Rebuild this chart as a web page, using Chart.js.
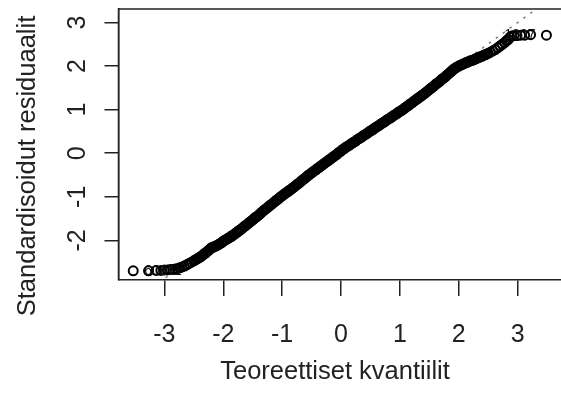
<!DOCTYPE html>
<html>
<head>
<meta charset="utf-8">
<script src="https://cdn.jsdelivr.net/npm/chart.js@4"></script>
<style>
  html, body { margin: 0; padding: 0; background: #ffffff; overflow: hidden; }
  #wrap { width: 570px; height: 393px; }
</style>
</head>
<body>
<div id="wrap"><canvas id="qq" width="570" height="393"></canvas></div>
<script>
// Normal Q-Q plot of the standardised residuals
const teoreettiset = [
  -3.53, -3.27, -3.14, -3.06, -3.00, -2.95, -2.90, -2.86, -2.82, -2.78,
  -2.74, -2.70, -2.66, -2.62, -2.58, -2.54,
  -2.500, -2.475, -2.450, -2.425, -2.400, -2.375, -2.350, -2.325, -2.300, -2.275,
  -2.250, -2.225, -2.200, -2.175, -2.150, -2.125, -2.100, -2.075, -2.050, -2.025,
  -2.000, -1.975, -1.950, -1.925, -1.900, -1.875, -1.850, -1.825, -1.800, -1.775,
  -1.750, -1.725, -1.700, -1.675, -1.650, -1.625, -1.600, -1.575, -1.550, -1.525,
  -1.500, -1.475, -1.450, -1.425, -1.400, -1.375, -1.350, -1.325, -1.300, -1.275,
  -1.250, -1.225, -1.200, -1.175, -1.150, -1.125, -1.100, -1.075, -1.050, -1.025,
  -1.000, -0.975, -0.950, -0.925, -0.900, -0.875, -0.850, -0.825, -0.800, -0.775,
  -0.750, -0.725, -0.700, -0.675, -0.650, -0.625, -0.600, -0.575, -0.550, -0.525,
  -0.500, -0.475, -0.450, -0.425, -0.400, -0.375, -0.350, -0.325, -0.300, -0.275,
  -0.250, -0.225, -0.200, -0.175, -0.150, -0.125, -0.100, -0.075, -0.050, -0.025,
  0.000, 0.025, 0.050, 0.075, 0.100, 0.125, 0.150, 0.175, 0.200, 0.225,
  0.250, 0.275, 0.300, 0.325, 0.350, 0.375, 0.400, 0.425, 0.450, 0.475,
  0.500, 0.525, 0.550, 0.575, 0.600, 0.625, 0.650, 0.675, 0.700, 0.725,
  0.750, 0.775, 0.800, 0.825, 0.850, 0.875, 0.900, 0.925, 0.950, 0.975,
  1.000, 1.025, 1.050, 1.075, 1.100, 1.125, 1.150, 1.175, 1.200, 1.225,
  1.250, 1.275, 1.300, 1.325, 1.350, 1.375, 1.400, 1.425, 1.450, 1.475,
  1.500, 1.525, 1.550, 1.575, 1.600, 1.625, 1.650, 1.675, 1.700, 1.725,
  1.750, 1.775, 1.800, 1.825, 1.850, 1.875, 1.900, 1.925, 1.950, 1.975,
  2.000, 2.025, 2.050, 2.075, 2.100, 2.125, 2.150, 2.175, 2.200, 2.225,
  2.250, 2.275, 2.300, 2.325, 2.350, 2.375, 2.400, 2.425, 2.450, 2.475,
  2.50, 2.54, 2.58, 2.62, 2.66, 2.70, 2.74, 2.78, 2.81, 2.84,
  2.87, 2.90, 2.94, 2.99, 3.05, 3.12, 3.22, 3.49
];
const residuaalit = [
  -2.70, -2.70, -2.69, -2.69, -2.68, -2.68, -2.67, -2.67, -2.66, -2.65,
  -2.63, -2.61, -2.59, -2.56, -2.53, -2.50,
  -2.47, -2.45, -2.43, -2.41, -2.39, -2.37, -2.34, -2.31, -2.29, -2.26,
  -2.23, -2.20, -2.17, -2.16, -2.14, -2.13, -2.11, -2.09, -2.07, -2.05,
  -2.02, -2.00, -1.98, -1.96, -1.94, -1.92, -1.90, -1.87, -1.85, -1.82,
  -1.80, -1.77, -1.75, -1.72, -1.69, -1.67, -1.64, -1.61, -1.58, -1.56,
  -1.53, -1.50, -1.47, -1.45, -1.42, -1.39, -1.36, -1.33, -1.30, -1.28,
  -1.25, -1.22, -1.19, -1.17, -1.14, -1.11, -1.08, -1.06, -1.03, -1.00,
  -0.98, -0.95, -0.93, -0.90, -0.88, -0.85, -0.83, -0.80, -0.78, -0.75,
  -0.72, -0.70, -0.67, -0.64, -0.61, -0.59, -0.56, -0.53, -0.50, -0.48,
  -0.45, -0.43, -0.40, -0.38, -0.35, -0.33, -0.30, -0.28, -0.25, -0.23,
  -0.20, -0.18, -0.15, -0.13, -0.10, -0.08, -0.05, -0.03, 0.00, 0.03,
  0.05, 0.08, 0.10, 0.13, 0.15, 0.17, 0.19, 0.22, 0.24, 0.26,
  0.28, 0.31, 0.33, 0.35, 0.37, 0.40, 0.42, 0.44, 0.46, 0.49,
  0.51, 0.53, 0.55, 0.58, 0.60, 0.62, 0.64, 0.67, 0.69, 0.71,
  0.73, 0.76, 0.78, 0.80, 0.82, 0.85, 0.87, 0.89, 0.91, 0.94,
  0.96, 0.98, 1.00, 1.03, 1.05, 1.08, 1.10, 1.13, 1.15, 1.18,
  1.20, 1.23, 1.25, 1.28, 1.30, 1.33, 1.35, 1.38, 1.40, 1.43,
  1.46, 1.49, 1.51, 1.54, 1.57, 1.60, 1.62, 1.65, 1.68, 1.71,
  1.73, 1.76, 1.79, 1.82, 1.85, 1.88, 1.91, 1.94, 1.96, 1.98,
  2.00, 2.02, 2.03, 2.05, 2.06, 2.08, 2.09, 2.11, 2.12, 2.13,
  2.14, 2.16, 2.17, 2.19, 2.20, 2.22, 2.23, 2.25, 2.26, 2.28,
  2.29, 2.32, 2.35, 2.38, 2.42, 2.46, 2.50, 2.54, 2.58, 2.61,
  2.66, 2.69, 2.70, 2.70, 2.71, 2.71, 2.72, 2.71
];

// Reference line through the quartiles (qqline), given by its two end points
const viivaX = [-3.80, 3.80];
const viivaY = [-3.66, 3.78];

// Identified extreme observations: point index and its label
const tunnusIndeksit = [0, 1, teoreettiset.length - 1];
const tunnukset = ['606', '211', '1207'];

const xTicks = [-3, -2, -1, 0, 1, 2, 3];
const xTickLabels = ['-3', '-2', '-1', '0', '1', '2', '3'];
const yTicks = [-2, -1, 0, 1, 2, 3];
const yTickLabels = ['-2', '-1', '0', '1', '2', '3'];

const xOtsikko = 'Teoreettiset kvantiilit';
const yOtsikko = 'Standardisoidut residuaalit';

const FONT = '"Liberation Sans", Arial, sans-serif';
const INK = '#222222';

const pisteet = teoreettiset.map((x, i) => ({ x: x, y: residuaalit[i] }));
const viiva = viivaX.map((x, i) => ({ x: x, y: viivaY[i] }));

const boxPlugin = {
  id: 'boxAndLabels',
  afterDraw(chart) {
    const { ctx, chartArea: a, scales } = chart;
    ctx.save();
    // frame around the plotting region
    ctx.strokeStyle = INK;
    ctx.lineWidth = 1.5;
    ctx.beginPath();
    ctx.moveTo(a.left, a.bottom);
    ctx.lineTo(a.left, a.top);
    ctx.lineTo(a.right, a.top);
    ctx.lineTo(a.right, a.bottom);
    ctx.stroke();

    // rotated y tick labels
    ctx.fillStyle = INK;
    ctx.font = '25px ' + FONT;
    ctx.textAlign = 'center';
    ctx.textBaseline = 'middle';
    yTicks.forEach((v, i) => {
      const py = scales.y.getPixelForValue(v);
      ctx.save();
      ctx.translate(78, py);
      ctx.rotate(-Math.PI / 2);
      ctx.fillText(yTickLabels[i], 0, 0);
      ctx.restore();
    });

    // axis titles
    ctx.font = '25.5px ' + FONT;
    ctx.fillText(xOtsikko, 335, 372);
    ctx.save();
    ctx.translate(28, 166);
    ctx.rotate(-Math.PI / 2);
    ctx.fillText(yOtsikko, 0, 0);
    ctx.restore();

    // labels of identified points
    ctx.font = '14px ' + FONT;
    ctx.fillStyle = '#111111';
    tunnusIndeksit.forEach((idx, i) => {
      const px = scales.x.getPixelForValue(teoreettiset[idx]);
      const py = scales.y.getPixelForValue(residuaalit[idx]);
      if (teoreettiset[idx] > 0) {
        ctx.textAlign = 'right';
        ctx.fillText(tunnukset[i], px - 11, py);
      } else {
        ctx.textAlign = 'left';
        ctx.fillText(tunnukset[i], px + 11, py);
      }
    });
    ctx.restore();
  }
};

new Chart(document.getElementById('qq'), {
  type: 'scatter',
  data: {
    datasets: [
      {
        data: pisteet,
        pointStyle: 'circle',
        pointRadius: 4.5,
        pointBorderWidth: 2,
        pointBorderColor: '#000000',
        pointBackgroundColor: 'rgba(0,0,0,0)',
        order: 1
      },
      {
        type: 'line',
        data: viiva,
        borderColor: '#7f7f7f',
        borderWidth: 1.5,
        borderDash: [2.5, 6],
        pointRadius: 0,
        fill: false,
        order: 2
      }
    ]
  },
  options: {
    responsive: false,
    animation: false,
    events: [],
    layout: { padding: { top: 9, right: 5, left: 0, bottom: 0 } },
    plugins: { legend: { display: false }, tooltip: { enabled: false } },
    scales: {
      x: {
        type: 'linear',
        min: -3.78,
        max: 3.78,
        afterBuildTicks: s => { s.ticks = xTicks.map(v => ({ value: v })); },
        afterFit: s => { s.height = 113; },
        grid: { drawOnChartArea: false, drawTicks: true, tickLength: 16, color: INK, lineWidth: 1.5 },
        border: { display: true, color: INK, width: 1.5 },
        ticks: {
          autoSkip: false,
          maxRotation: 0,
          padding: 27,
          color: INK,
          font: { family: FONT, size: 25, lineHeight: 1 },
          callback: (v) => xTickLabels[xTicks.indexOf(v)]
        },
        title: { display: false }
      },
      y: {
        type: 'linear',
        min: -2.91,
        max: 3.31,
        afterBuildTicks: s => { s.ticks = yTicks.map(v => ({ value: v })); },
        afterFit: s => { s.width = 118.5; },
        grid: { drawOnChartArea: false, drawTicks: true, tickLength: 14, color: INK, lineWidth: 1.5 },
        border: { display: true, color: INK, width: 1.5 },
        ticks: { display: false },
        title: { display: false }
      }
    }
  },
  plugins: [boxPlugin]
});
</script>
</body>
</html>
